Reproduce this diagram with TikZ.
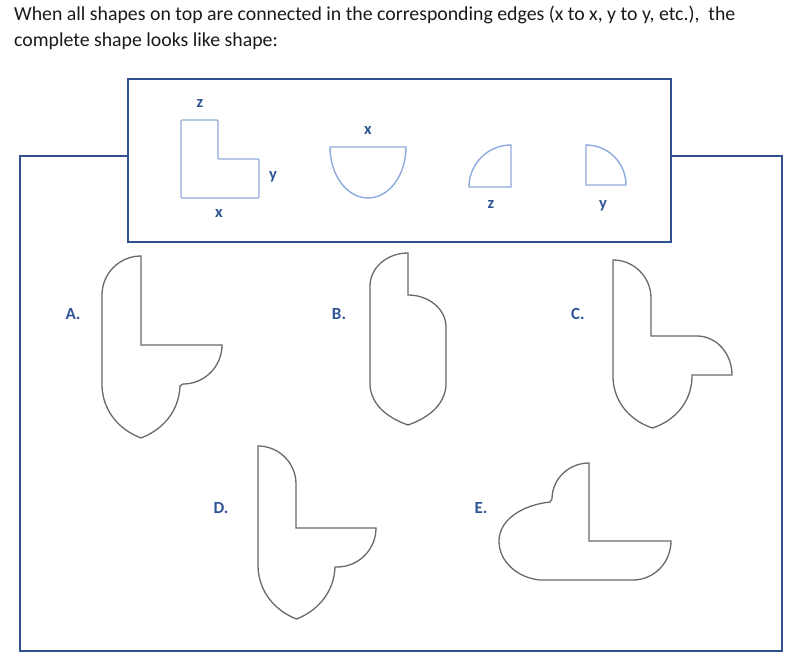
\documentclass[tikz,border=0pt]{standalone}
\usepackage{fontspec}
\setmainfont{Carlito}
\definecolor{framecol}{RGB}{47,82,143}
\definecolor{piececol}{RGB}{143,170,220}
\definecolor{labelcol}{RGB}{47,84,150}
\definecolor{answercol}{RGB}{105,105,105}
\definecolor{textcol}{RGB}{25,25,25}

\begin{document}
\begin{tikzpicture}[
        x=1pt, y=-1pt,
        frame/.style={draw=framecol, line width=2.4pt},
        piece/.style={draw=piececol, line width=1.4pt, rounded corners=1pt},
        answer/.style={draw=answercol, line width=1.3pt},
        edgelabel/.style={font=\fontsize{16.5}{19}\selectfont\bfseries, text=labelcol, inner sep=0pt},
        choice/.style={font=\fontsize{17}{20}\selectfont\bfseries, text=labelcol, inner sep=0pt},
        note/.style={font=\fontsize{19.8}{24}\selectfont, text=textcol, inner sep=0pt, anchor=base west}
    ]
        \useasboundingbox (0,0) rectangle (800,666);

        \node[note] (line1) at (14,21) {When all shapes on top are connected in the corresponding edges (x to x, y to y, etc.),\ \ the};
        \node[note] (line2) at (14,47) {complete shape looks like shape:};

        \draw[frame] (128,156) -- (20,156) -- (20,651) -- (782,651) -- (782,156) -- (671,156);
        \draw[frame, fill=white] (128,79) rectangle (671,242);

        \draw[piece] (181,120) -- (218,120) -- (218,159) -- (259,159) -- (259,198) -- (181,198) -- cycle;
        \draw[piece, rounded corners=0pt] (330,147) -- (406,147) arc[start angle=0, end angle=180, x radius=38, y radius=51] -- cycle;
        \draw[piece, rounded corners=0pt] (469,187) -- (511,187) -- (511,145) arc[start angle=270, end angle=180, radius=42] -- cycle;
        \draw[piece, rounded corners=0pt] (586,145) -- (586,185) -- (626,185) arc[start angle=0, end angle=-90, radius=40] -- cycle;

        \node[edgelabel] (zL) at (200,104) {z};
        \node[edgelabel] (yL) at (273,177) {y};
        \node[edgelabel] (xL) at (219,213) {x};
        \node[edgelabel] (xS) at (368,131) {x};
        \node[edgelabel] (zQ) at (491,204) {z};
        \node[edgelabel] (yQ) at (603,206) {y};

        \draw[answer] (141,256) -- (141,345) -- (222,345) arc[start angle=0, end angle=90, radius=39]
              -- (180,386) .. controls (179,412) and (162,430) .. (141,438)
              .. controls (120,430) and (103,412) .. (102,386)
              -- (102,295) arc[start angle=180, end angle=270, radius=39] -- cycle;
        \draw[answer] (408,253) -- (408,295) arc[start angle=270, end angle=360, x radius=38, y radius=32]
              -- (446,385) .. controls (445,405) and (428,418) .. (408,425)
              .. controls (388,418) and (371,405) .. (370,385)
              -- (370,286) arc[start angle=180, end angle=270, x radius=38, y radius=33] -- cycle;
        \draw[answer] (613,260) arc[start angle=270, end angle=360, radius=38]
              -- (651,336) -- (697,336) arc[start angle=270, end angle=360, x radius=35, y radius=39]
              -- (692,375) -- (692,378) .. controls (691,403) and (674,421) .. (652.5,428)
              .. controls (631,421) and (614,403) .. (613,378) -- cycle;
        \draw[answer] (258,446) arc[start angle=270, end angle=360, radius=38]
              -- (296,528) -- (376,528) arc[start angle=0, end angle=90, radius=39]
              -- (335,567) .. controls (334,593) and (317,611) .. (296.5,619)
              .. controls (276,611) and (259,593) .. (258,567) -- cycle;
        \draw[answer] (589,463) -- (589,541) -- (671,541) arc[start angle=0, end angle=90, x radius=38, y radius=39]
              -- (540,580) .. controls (518,578) and (499,562) .. (499,541)
              .. controls (499,520) and (522,505) .. (550,502)
              -- (552,499) arc[start angle=180, end angle=270, x radius=37, y radius=36] -- cycle;

        \node[choice] (labA) at (73,314) {A.};
        \node[choice] (labB) at (339,314) {B.};
        \node[choice] (labC) at (578,314) {C.};
        \node[choice] (labD) at (221,508) {D.};
        \node[choice] (labE) at (481,508) {E.};
    \end{tikzpicture}
\end{document}
